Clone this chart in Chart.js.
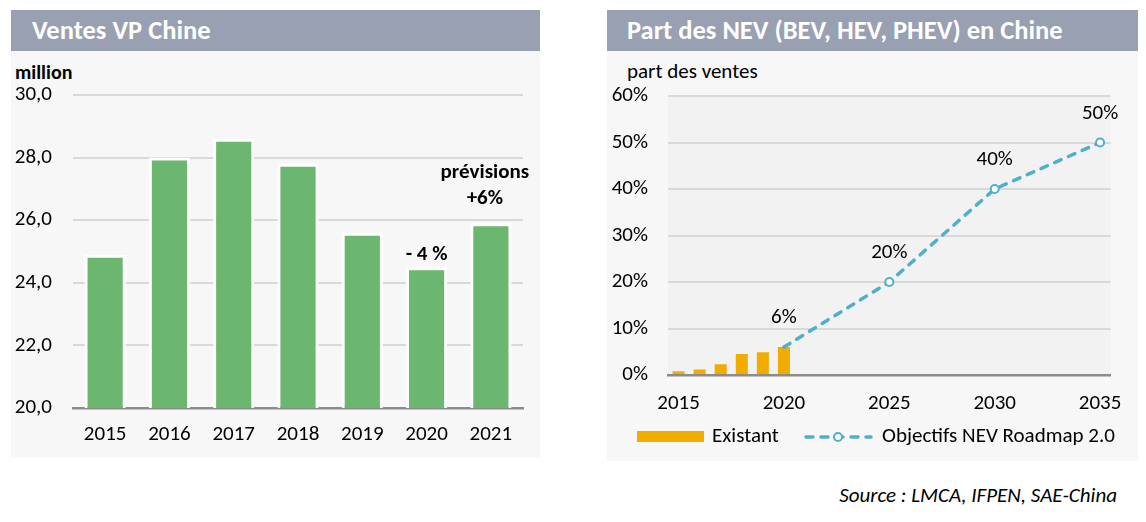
<!DOCTYPE html>
<html>
<head>
<meta charset="utf-8">
<script src="https://cdn.jsdelivr.net/npm/chart.js@4.4.0/dist/chart.umd.min.js"></script>
<style>
  html, body { margin:0; padding:0; background:#ffffff; width:1146px; height:522px; overflow:hidden; }
  body { position:relative; font-family: Carlito, Lato, "Noto Sans", sans-serif; }
  .panel { position:absolute; background:#F7F7F7; }
  .bar { position:absolute; background:#98A0B2; color:#ffffff; font-weight:bold; font-size:26.5px; line-height:41px; white-space:nowrap; box-sizing:border-box; }
  .lbl { position:absolute; white-space:nowrap; color:#000; font-size:21px; line-height:25px; }
  canvas { position:absolute; }
</style>
</head>
<body>
<div class="panel" style="left:11px;top:51px;width:529px;height:406px;"></div>
<div class="bar" style="left:11px;top:10px;width:529px;height:41px;padding-left:21px;">Ventes VP Chine</div>
<div class="lbl" style="left:15px;top:60px;font-weight:bold;font-size:20px;">million</div>

<div class="panel" style="left:607px;top:51px;width:531px;height:410px;"></div>
<div class="bar" style="left:607px;top:10px;width:531px;height:41px;padding-left:20px;">Part des NEV (BEV, HEV, PHEV) en Chine</div>
<div class="lbl" style="left:627px;top:59px;">part des ventes</div>

<div class="lbl" style="right:29px;top:483px;font-style:italic;">Source : LMCA, IFPEN, SAE-China</div>

<canvas id="c1" width="529" height="406" style="left:11px;top:51px;"></canvas>
<canvas id="c2" width="531" height="410" style="left:607px;top:51px;"></canvas>

<script>
// ---------- Data: Ventes VP Chine ----------
const salesYears = ['2015', '2016', '2017', '2018', '2019', '2020', '2021'];
const salesMillions = [24.9, 28.0, 28.6, 27.8, 25.6, 24.5, 25.9];
const salesTicks = [20, 22, 24, 26, 28, 30];
const salesNote2020 = '- 4 %';
const salesNote2021 = ['prévisions', '+6%'];

// ---------- Data: Part des NEV ----------
const nevYears = ['2015','2016','2017','2018','2019','2020','2021','2022','2023','2024','2025',
                  '2026','2027','2028','2029','2030','2031','2032','2033','2034','2035'];
const existantYears = ['2015', '2016', '2017', '2018', '2019', '2020'];
const existantShare = [0.8, 1.2, 2.3, 4.5, 4.9, 6.0];
const roadmapYears = ['2020', '2025', '2030', '2035'];
const roadmapShare = [6, 20, 40, 50];
const nevTickYears = ['2015', '2020', '2025', '2030', '2035'];
const nevTicks = [0, 10, 20, 30, 40, 50, 60];
const legendLabels = ['Existant', 'Objectifs NEV Roadmap 2.0'];

const FONT = 'Carlito, Lato, "Noto Sans", sans-serif';
Chart.defaults.font.family = FONT;
Chart.defaults.font.size = 21;
Chart.defaults.color = '#000000';

const GREEN = '#6CB76F';
const GOLD = '#F0AC00';
const AQUA = '#4FB0CB';

// ---------- Chart 1 ----------
const salesNotes = {
  id: 'salesNotes',
  afterDatasetsDraw(chart) {
    const ctx = chart.ctx;
    const meta = chart.getDatasetMeta(0);
    const b20 = meta.data[salesYears.indexOf('2020')];
    const b21 = meta.data[salesYears.indexOf('2021')];
    ctx.save();
    ctx.font = 'bold 21px ' + FONT;
    ctx.fillStyle = '#000';
    ctx.textAlign = 'center';
    ctx.textBaseline = 'middle';
    ctx.fillText(salesNote2020, b20.x, b20.y - 12);
    ctx.fillText(salesNote2021[0], b21.x - 6, b21.y - 51);
    ctx.fillText(salesNote2021[1], b21.x - 6, b21.y - 25);
    ctx.restore();
  }
};

new Chart(document.getElementById('c1'), {
  type: 'bar',
  data: {
    labels: salesYears,
    datasets: [{
      data: salesMillions,
      backgroundColor: GREEN,
      borderColor: '#FFFFFF',
      borderWidth: 3,
      borderSkipped: 'bottom',
      categoryPercentage: 1,
      barPercentage: 0.64
    }]
  },
  options: {
    responsive: false,
    devicePixelRatio: 1,
    animation: false,
    layout: { padding: { left: 0, top: 44, right: 17, bottom: 0 } },
    plugins: { legend: { display: false }, tooltip: { enabled: false } },
    scales: {
      x: {
        grid: { display: false, drawTicks: false },
        border: { display: true, color: '#8C8C8C', width: 2.5 },
        ticks: { padding: 14, maxRotation: 0 },
        afterFit(s) { s.height = 49; }
      },
      y: {
        min: salesTicks[0], max: salesTicks[salesTicks.length - 1],
        afterBuildTicks(s) { s.ticks = salesTicks.map(v => ({ value: v })); },
        grid: { color: '#D9D9D9', lineWidth: 2, drawTicks: false },
        border: { display: false },
        ticks: { padding: 21, callback: v => v.toFixed(1).replace('.', ',') },
        afterFit(s) { s.width = 62; }
      }
    }
  },
  plugins: [salesNotes]
});

// ---------- Chart 2 ----------
const nevDecor = {
  id: 'nevDecor',
  beforeDraw(chart) {
    const { ctx, chartArea: a } = chart;
    ctx.save();
    ctx.fillStyle = '#F2F2F2';
    ctx.fillRect(a.left, a.top, a.right - a.left, a.bottom - a.top);
    ctx.restore();
  },
  afterDatasetsDraw(chart) {
    const ctx = chart.ctx;
    const meta = chart.getDatasetMeta(1);
    ctx.save();
    ctx.font = '21px ' + FONT;
    ctx.fillStyle = '#000';
    ctx.textAlign = 'center';
    ctx.textBaseline = 'middle';
    meta.data.forEach((pt, i) => {
      ctx.fillText(roadmapShare[i] + '%', pt.x, pt.y - 29);
    });
    ctx.restore();
  },
  afterDraw(chart) {
    const ctx = chart.ctx;
    ctx.save();
    // legend: Existant
    ctx.fillStyle = GOLD;
    ctx.fillRect(30, 380, 67, 11);
    ctx.fillStyle = '#000';
    ctx.font = '21px ' + FONT;
    ctx.textAlign = 'left';
    ctx.textBaseline = 'middle';
    ctx.fillText(legendLabels[0], 105, 386);
    // legend: roadmap line
    ctx.strokeStyle = AQUA;
    ctx.lineWidth = 3.5;
    ctx.lineCap = 'round';
    ctx.setLineDash([7, 8]);
    ctx.beginPath();
    ctx.moveTo(199, 386);
    ctx.lineTo(264, 386);
    ctx.stroke();
    ctx.setLineDash([]);
    ctx.beginPath();
    ctx.arc(231, 386, 4, 0, Math.PI * 2);
    ctx.fillStyle = '#FFFFFF';
    ctx.fill();
    ctx.lineWidth = 2;
    ctx.stroke();
    ctx.fillStyle = '#000';
    ctx.fillText(legendLabels[1], 275, 386);
    ctx.restore();
  }
};

new Chart(document.getElementById('c2'), {
  data: {
    labels: nevYears,
    datasets: [{
      type: 'bar',
      data: existantYears.map((y, i) => ({ x: y, y: existantShare[i] })),
      backgroundColor: GOLD,
      borderWidth: 0,
      categoryPercentage: 1,
      barPercentage: 0.57,
      order: 2
    }, {
      type: 'line',
      data: roadmapYears.map((y, i) => ({ x: y, y: roadmapShare[i] })),
      borderColor: AQUA,
      borderWidth: 3.5,
      borderDash: [7, 8],
      borderCapStyle: 'round',
      tension: 0,
      fill: false,
      pointRadius: c => (c.dataIndex === 0 ? 0 : 4),
      pointBackgroundColor: '#FFFFFF',
      pointBorderColor: AQUA,
      pointBorderWidth: 2,
      order: 1
    }]
  },
  options: {
    responsive: false,
    devicePixelRatio: 1,
    animation: false,
    layout: { padding: { left: 0, top: 45, right: 25, bottom: 0 } },
    plugins: { legend: { display: false }, tooltip: { enabled: false } },
    scales: {
      x: {
        type: 'category',
        grid: { display: false, drawTicks: false },
        border: { display: true, color: '#8C8C8C', width: 2.5 },
        ticks: {
          padding: 16, maxRotation: 0, autoSkip: false,
          callback(v) { const l = this.getLabelForValue(v); return nevTickYears.includes(l) ? l : ''; }
        },
        afterFit(s) { s.height = 86; }
      },
      y: {
        min: nevTicks[0], max: nevTicks[nevTicks.length - 1],
        afterBuildTicks(s) { s.ticks = nevTicks.map(v => ({ value: v })); },
        grid: { color: '#D9D9D9', lineWidth: 2, drawTicks: false },
        border: { display: false },
        ticks: { padding: 20, callback: v => v + '%' },
        afterFit(s) { s.width = 61; }
      }
    }
  },
  plugins: [nevDecor]
});
</script>
</body>
</html>
